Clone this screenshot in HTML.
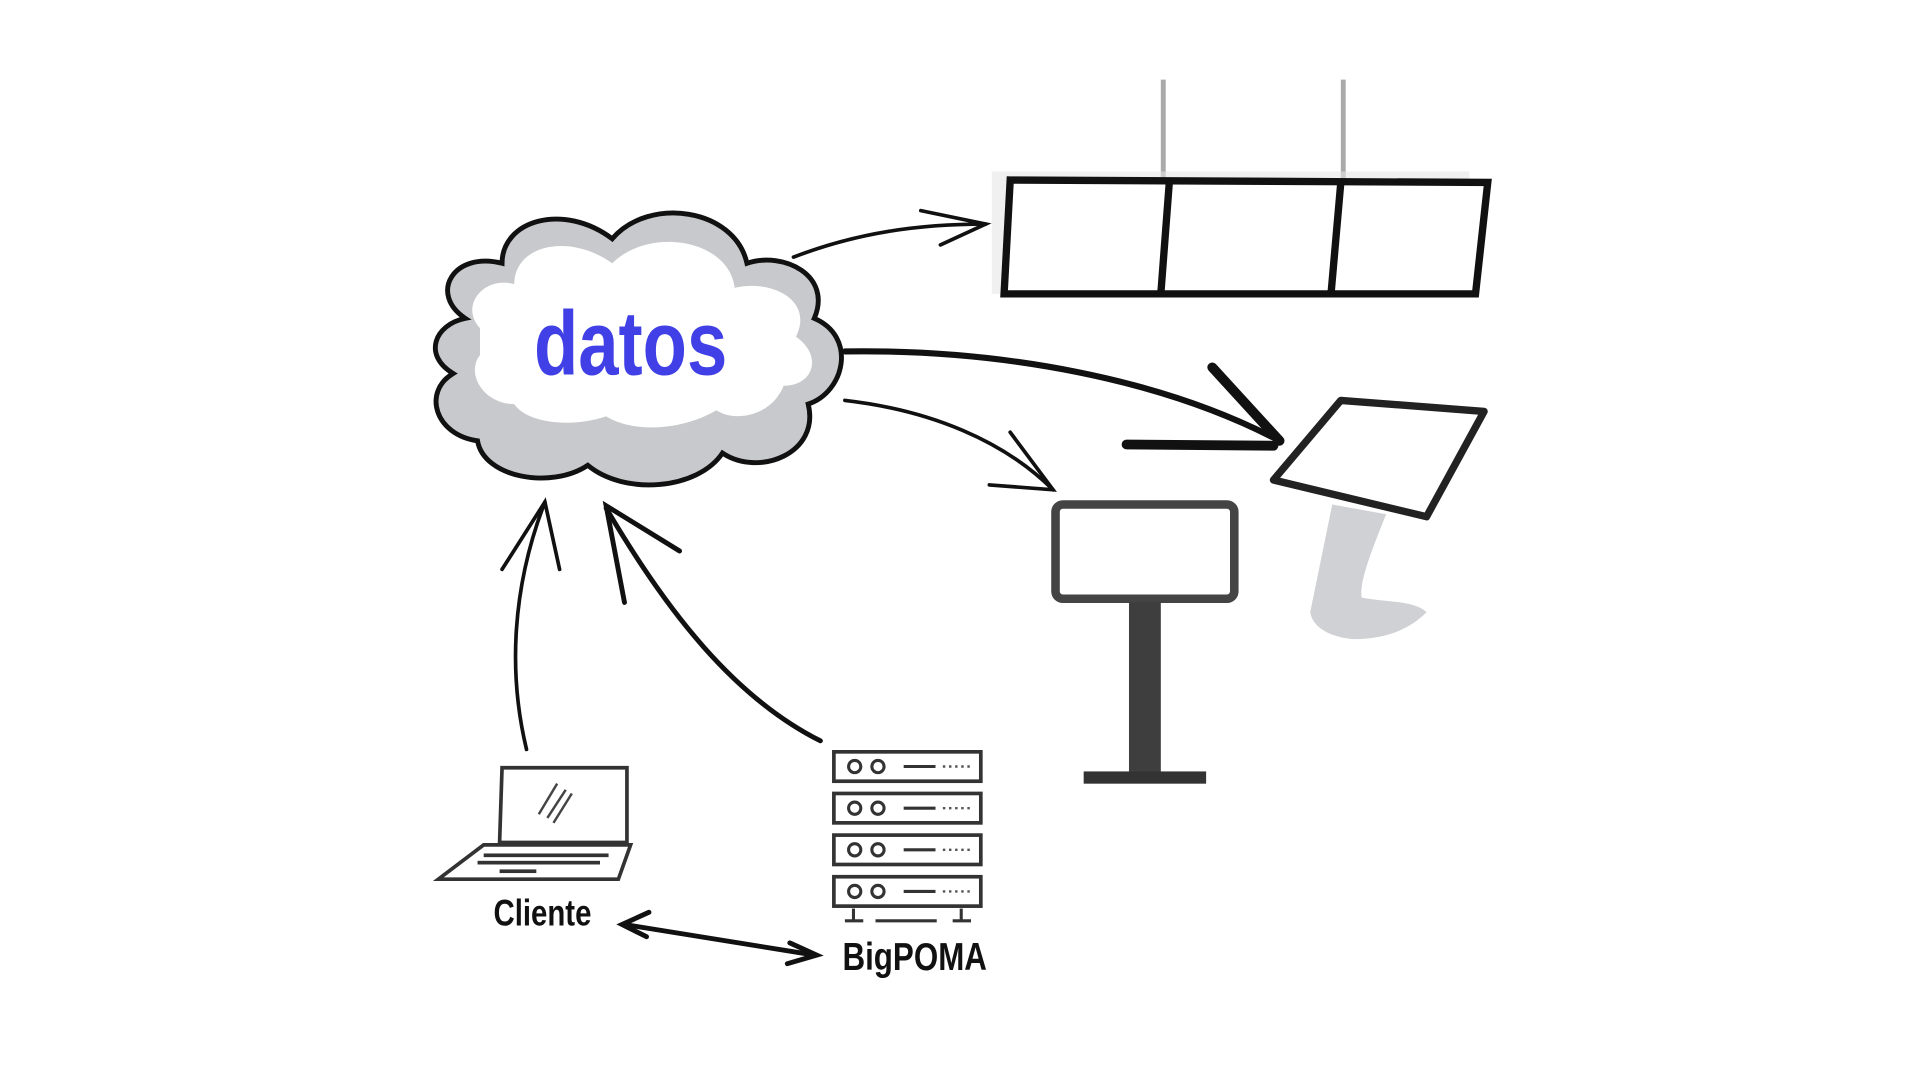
<!DOCTYPE html>
<html><head><meta charset="utf-8"><style>html,body{margin:0;padding:0;background:#fff;width:1920px;height:1080px;overflow:hidden}</style></head>
<body>
<svg width="1920" height="1080" viewBox="0 0 1568 882" preserveAspectRatio="none" xmlns="http://www.w3.org/2000/svg">
<rect width="1568" height="882" fill="#fff"/>
<g stroke="#111" stroke-width="4" fill="#c8c9cc">
<path d="M380 260 C350 240 370 205 410 215 C410 180 460 165 500 195 C530 160 600 170 610 215 C640 205 680 225 665 260 C700 275 690 320 660 330 C670 370 620 390 590 370 C570 400 510 405 480 380 C450 400 395 390 390 360 C355 355 345 320 370 305 C345 290 355 265 380 260 Z"/>
</g>
<path d="M392 268 C375 250 395 225 420 232 C420 200 465 190 500 215 C530 185 595 195 600 235 C630 228 665 245 650 275 C672 290 665 315 640 315 C630 340 600 345 585 335 C560 350 520 355 495 340 C465 350 430 345 420 330 C395 330 380 305 392 290 Z" fill="#fff"/>
<text x="0" y="0" text-anchor="middle" font-family="'Liberation Sans',sans-serif" font-weight="bold" font-size="74" fill="#4040e6" transform="translate(515,306) scale(0.8,1)">datos</text>
<g stroke="#111" fill="none" stroke-linecap="round">
<path d="M648 210 C700 190 750 183 805 183" stroke-width="3"/>
<path d="M752 172 L805 183 L768 200" stroke-width="3"/>
<path d="M690 287 C820 285 950 310 1045 360" stroke-width="5"/>
<path d="M990 300 L1045 360 M920 363 L1040 364" stroke-width="8"/>
<path d="M690 327 C760 335 820 360 860 400" stroke-width="3"/>
<path d="M825 353 L860 400 L808 396" stroke-width="3"/>
<path d="M430 612 C415 550 418 480 445 410" stroke-width="3"/>
<path d="M410 465 L445 410 L457 465" stroke-width="3"/>
<path d="M670 605 C600 570 545 500 495 415" stroke-width="4"/>
<path d="M510 492 L495 413 L555 450" stroke-width="4"/>
<path d="M510 755 L665 780" stroke-width="4"/>
<path d="M530 745 L508 755 L528 765 M645 770 L667 780 L643 787" stroke-width="4"/>
</g>
<g stroke="#aaa" stroke-width="4"><line x1="950" y1="65" x2="950" y2="148"/><line x1="1097" y1="65" x2="1097" y2="148"/></g>
<rect x="810" y="140" width="390" height="100" fill="#e6e6e6" opacity="0.6"/>
<g stroke="#111" stroke-width="6" fill="#fff"><path d="M825 147 L1215 149 L1205 240 L820 240 Z"/><line x1="955" y1="148" x2="948" y2="240"/><line x1="1095" y1="149" x2="1087" y2="240"/></g>
<path d="M1088 412 L1132 420 C1120 450 1110 475 1112 488 C1130 492 1155 490 1165 500 C1150 515 1130 522 1105 522 C1085 520 1072 512 1070 500 Z" fill="#d0d1d4"/>
<path d="M1040 392 L1095 327 L1212 336 L1165 422 Z" fill="#fff" stroke="#222" stroke-width="6" stroke-linejoin="round"/>
<rect x="862" y="412" width="146" height="77" rx="6" fill="#fff" stroke="#444" stroke-width="7"/>
<rect x="922" y="492" width="26" height="140" fill="#3e3e3e"/>
<rect x="885" y="630" width="100" height="10" fill="#333"/>
<g stroke="#333" stroke-width="3" fill="#fff">
<path d="M410 627 L512 627 L512 688 L408 688 Z"/>
<path d="M395 690 L515 690 L505 718 L358 718 Z"/>
</g>
<g stroke="#444" stroke-width="2"><line x1="440" y1="665" x2="455" y2="640"/><line x1="447" y1="668" x2="462" y2="645"/><line x1="452" y1="672" x2="467" y2="648"/></g>
<g fill="#333"><rect x="395" y="697" width="102" height="3"/><rect x="390" y="703" width="100" height="3"/><rect x="408" y="710" width="30" height="3"/></g>
<text x="0" y="0" text-anchor="middle" font-family="'Liberation Sans',sans-serif" font-weight="bold" font-size="30" fill="#111" transform="translate(443,756) scale(0.8,1)">Cliente</text>
<g stroke="#333" stroke-width="3" fill="#fff">
<rect x="681" y="614" width="120" height="24"/><rect x="681" y="648" width="120" height="24"/><rect x="681" y="682" width="120" height="24"/><rect x="681" y="716" width="120" height="24"/>
</g>
<g stroke="#333" stroke-width="2.5" fill="none">
<circle cx="698" cy="626" r="5"/><circle cx="717" cy="626" r="5"/><line x1="738" y1="626" x2="764" y2="626"/>
<circle cx="698" cy="660" r="5"/><circle cx="717" cy="660" r="5"/><line x1="738" y1="660" x2="764" y2="660"/>
<circle cx="698" cy="694" r="5"/><circle cx="717" cy="694" r="5"/><line x1="738" y1="694" x2="764" y2="694"/>
<circle cx="698" cy="728" r="5"/><circle cx="717" cy="728" r="5"/><line x1="738" y1="728" x2="764" y2="728"/>
<line x1="697" y1="742" x2="697" y2="752"/><line x1="785" y1="742" x2="785" y2="752"/><line x1="690" y1="752" x2="705" y2="752"/><line x1="778" y1="752" x2="793" y2="752"/><line x1="715" y1="752" x2="765" y2="752"/>
</g>
<g stroke="#555" stroke-width="2" stroke-dasharray="2 3"><line x1="770" y1="626" x2="792" y2="626"/><line x1="770" y1="660" x2="792" y2="660"/><line x1="770" y1="694" x2="792" y2="694"/><line x1="770" y1="728" x2="792" y2="728"/></g>
<text x="0" y="0" text-anchor="middle" font-family="'Liberation Sans',sans-serif" font-weight="bold" font-size="32" fill="#111" transform="translate(747,792) scale(0.8,1)">BigPOMA</text>
</svg>
</body></html>
